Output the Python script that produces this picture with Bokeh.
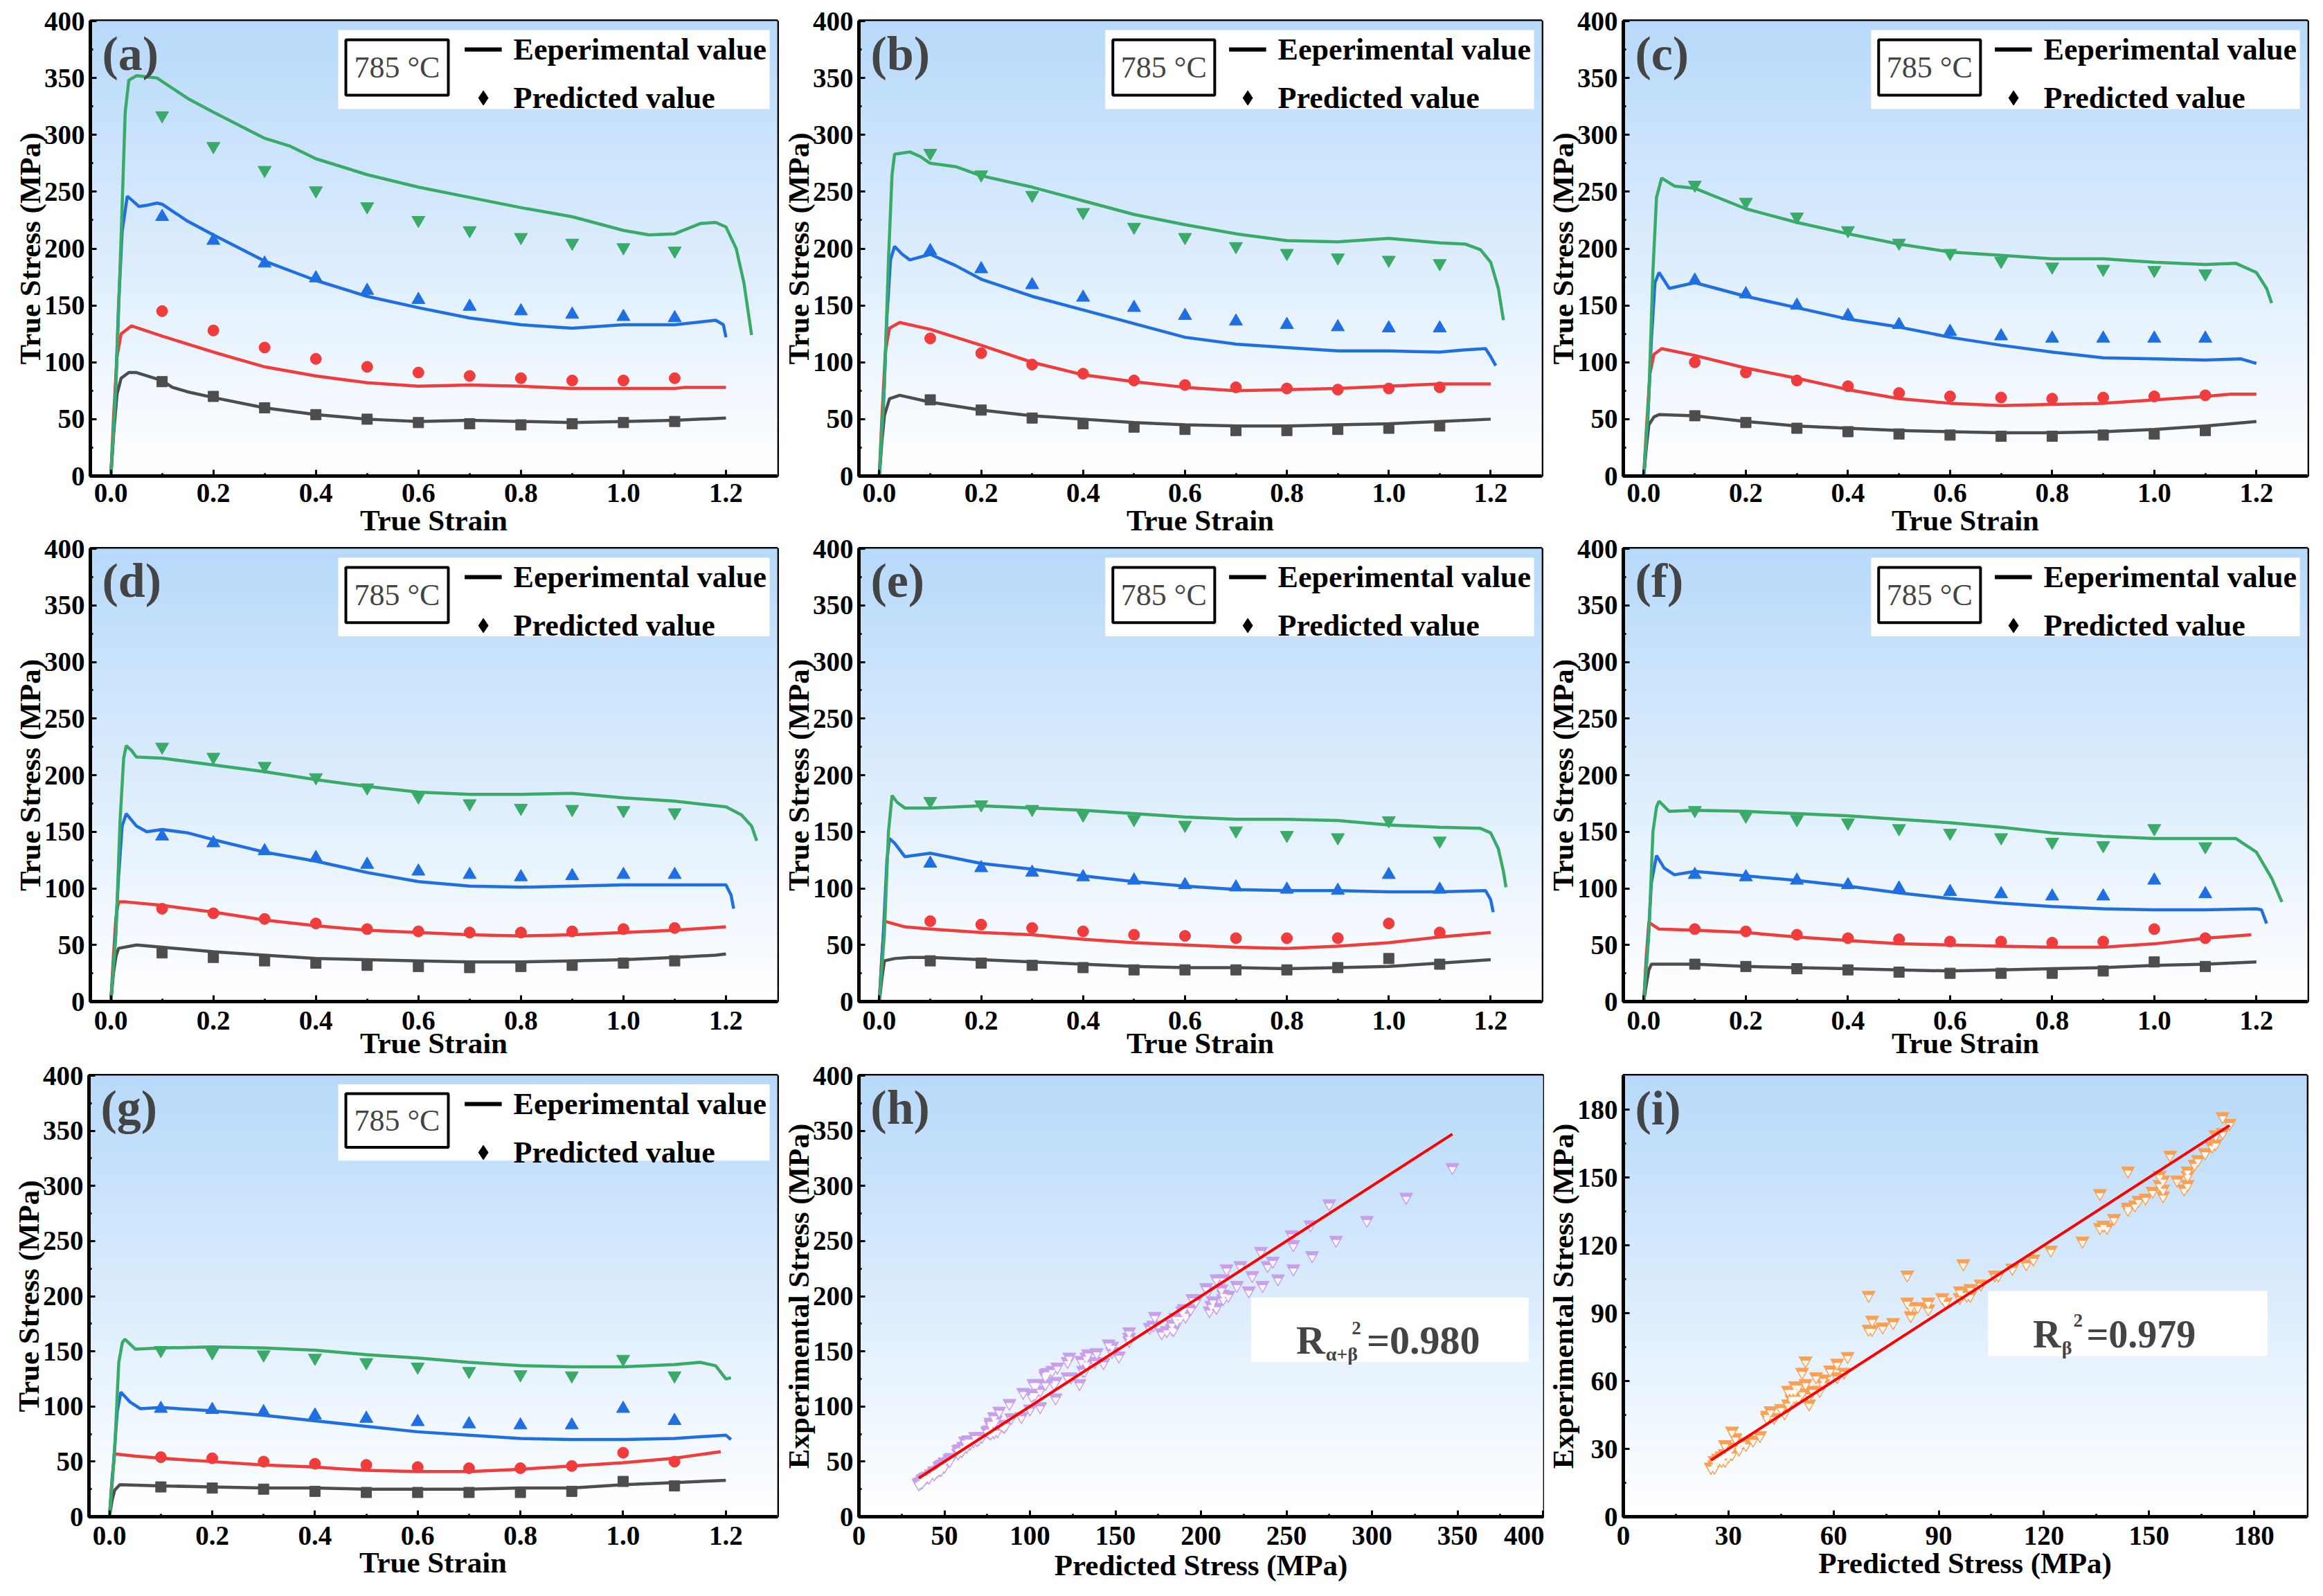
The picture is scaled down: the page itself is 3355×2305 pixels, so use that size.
import numpy as np
from bokeh.plotting import figure
from bokeh.models import (Range1d, FixedTicker, Legend, LegendItem, Label,
                          BoxAnnotation, NumeralTickFormatter)
from bokeh.layouts import row, column
from bokeh.embed import file_html
from bokeh.resources import INLINE

FONT = "Liberation Serif"

# ---------------- data ----------------
PRED_STRAIN = [0.1, 0.2, 0.3, 0.4, 0.5, 0.6, 0.7, 0.8, 0.9, 1.0, 1.1]
GRID = [0.2, 0.3, 0.4, 0.5, 0.6, 0.7, 0.8, 0.9, 1.0, 1.1, 1.2]

# panel (a)
a_k_x = [0, 0.005, 0.012, 0.02, 0.035, 0.05, 0.1, 0.12, 0.15] + GRID
a_k_y = [0, 35, 72, 86, 91, 91, 84, 78, 74, 69, 60, 54, 50, 48, 49, 48, 47, 48, 49, 51]
a_r_x = [0, 0.005, 0.012, 0.02, 0.04, 0.1] + GRID[:-2] + [1.1, 1.12, 1.2]
a_r_y = [0, 50, 105, 125, 132, 123, 109, 96, 88, 82, 79, 80, 79, 77, 77, 77, 78, 78]
a_b_x = [0, 0.008, 0.015, 0.022, 0.032, 0.04, 0.055, 0.07, 0.09, 0.1, 0.15] + GRID[:-1] + [1.18, 1.195, 1.2]
a_b_y = [0, 60, 150, 215, 246, 243, 237, 238, 240, 239, 224, 212, 189, 172, 158, 148, 139, 133, 130, 133, 133, 137, 133, 122]
a_g_x = [0, 0.01, 0.02, 0.028, 0.035, 0.05, 0.07, 0.09, 0.15, 0.2, 0.3, 0.35, 0.4, 0.5, 0.6, 0.7, 0.8, 0.9, 1.0, 1.05, 1.1, 1.15, 1.18, 1.2, 1.22, 1.235, 1.25]
a_g_y = [0, 80, 210, 320, 348, 352, 351, 350, 332, 320, 297, 290, 279, 265, 254, 245, 236, 228, 216, 212, 213, 222, 223, 219, 200, 170, 124]
a_k_p = [83, 70, 60, 54, 50, 47, 46, 45, 46, 47, 48]
a_r_p = [145, 128, 113, 103, 96, 91, 88, 86, 84, 84, 86]
a_b_p = [228, 207, 187, 174, 163, 155, 149, 145, 142, 140, 139]
a_g_p = [317, 290, 269, 251, 237, 225, 216, 210, 205, 201, 198]

# panel (b)
b_k_x = [0, 0.005, 0.01, 0.02, 0.04, 0.1] + GRID
b_k_y = [0, 30, 53, 68, 71, 65, 58, 53, 50, 47, 45, 44, 44, 45, 46, 48, 50]
b_r_x = [0, 0.005, 0.012, 0.02, 0.04, 0.1] + GRID
b_r_y = [0, 50, 110, 130, 135, 129, 115, 100, 89, 83, 78, 75, 76, 77, 79, 81, 81]
b_b_x = [0, 0.008, 0.015, 0.022, 0.03, 0.045, 0.06, 0.1, 0.15] + GRID[:-1] + [1.15, 1.19, 1.2, 1.21]
b_b_y = [0, 60, 140, 190, 202, 195, 190, 195, 185, 173, 158, 146, 134, 122, 116, 113, 110, 110, 109, 111, 112, 105, 97]
b_g_x = [0, 0.01, 0.018, 0.025, 0.03, 0.06, 0.08, 0.1, 0.15] + GRID[:-1] + [1.15, 1.18, 1.2, 1.215, 1.225]
b_g_y = [0, 80, 190, 265, 283, 285, 281, 275, 272, 264, 254, 242, 230, 221, 213, 207, 206, 209, 205, 204, 199, 188, 165, 137]
b_k_p = [67, 58, 51, 46, 43, 41, 40, 40, 41, 42, 44]
b_r_p = [121, 108, 98, 90, 84, 80, 78, 77, 76, 77, 78]
b_b_p = [198, 182, 168, 157, 148, 141, 136, 133, 131, 130, 130]
b_g_p = [284, 265, 247, 232, 219, 210, 202, 196, 192, 190, 187]

# panel (c)
c_k_x = [0, 0.005, 0.01, 0.02, 0.03, 0.1] + GRID
c_k_y = [0, 25, 45, 52, 54, 53, 48, 44, 42, 40, 39, 38, 38, 39, 41, 44, 48]
c_r_x = [0, 0.005, 0.012, 0.02, 0.035, 0.1] + GRID[:-1] + [1.15, 1.2]
c_r_y = [0, 40, 90, 107, 112, 106, 95, 86, 76, 68, 64, 62, 63, 64, 67, 70, 72, 72]
c_b_x = [0, 0.008, 0.015, 0.022, 0.03, 0.05, 0.1] + GRID[:-1] + [1.17, 1.2]
c_b_y = [0, 50, 120, 170, 179, 165, 170, 158, 148, 138, 131, 122, 115, 109, 104, 103, 102, 103, 99]
c_g_x = [0, 0.01, 0.018, 0.025, 0.035, 0.06, 0.1, 0.15] + GRID[:-1] + [1.16, 1.2, 1.22, 1.23]
c_g_y = [0, 70, 180, 245, 262, 255, 253, 244, 235, 223, 213, 204, 197, 194, 191, 191, 188, 186, 187, 179, 165, 152]
c_k_p = [53, 47, 42, 39, 37, 36, 35, 35, 36, 37, 40]
c_r_p = [100, 91, 84, 79, 73, 70, 69, 68, 69, 70, 71]
c_b_p = [172, 160, 150, 141, 133, 127, 123, 121, 121, 121, 121]
c_g_p = [256, 241, 228, 216, 205, 196, 189, 184, 182, 181, 178]

# panel (d)
d_k_x = [0, 0.005, 0.01, 0.015, 0.05, 0.1] + GRID[:-1] + [1.18, 1.2]
d_k_y = [0, 25, 40, 47, 50, 48, 44, 41, 38, 37, 36, 35, 35, 36, 37, 39, 41, 42]
d_r_x = [0, 0.005, 0.01, 0.015, 0.03, 0.1] + GRID
d_r_y = [0, 40, 75, 88, 88, 85, 79, 72, 67, 63, 61, 59, 58, 59, 61, 63, 66]
d_b_x = [0, 0.008, 0.015, 0.022, 0.03, 0.05, 0.07, 0.1, 0.15] + GRID + [1.21, 1.215]
d_b_y = [0, 50, 110, 155, 166, 155, 150, 152, 149, 143, 132, 124, 114, 106, 102, 101, 102, 103, 103, 103, 94, 82]
d_g_x = [0, 0.01, 0.018, 0.025, 0.03, 0.04, 0.05, 0.1] + GRID + [1.23, 1.25, 1.26]
d_g_y = [0, 60, 160, 215, 226, 222, 216, 215, 209, 203, 196, 190, 185, 183, 183, 184, 180, 177, 172, 165, 155, 142]
d_k_p = [43, 39, 36, 34, 32, 31, 30, 31, 32, 34, 36]
d_r_p = [82, 78, 73, 69, 64, 62, 61, 61, 62, 64, 65]
d_b_p = [146, 140, 133, 127, 121, 115, 112, 110, 111, 112, 112]
d_g_p = [225, 216, 208, 198, 189, 181, 175, 171, 170, 169, 167]

# panel (e)
e_k_x = [0, 0.005, 0.01, 0.03, 0.06, 0.1] + GRID
e_k_y = [0, 20, 36, 38, 39, 39, 37, 35, 33, 31, 30, 30, 29, 30, 31, 34, 37]
e_r_x = [0, 0.005, 0.01, 0.05, 0.1] + GRID
e_r_y = [0, 40, 71, 66, 64, 61, 59, 55, 52, 50, 48, 47, 49, 52, 57, 61]
e_b_x = [0, 0.008, 0.015, 0.02, 0.03, 0.05, 0.1] + GRID[:-1] + [1.19, 1.2, 1.205]
e_b_y = [0, 60, 125, 144, 140, 128, 131, 122, 117, 111, 106, 102, 99, 98, 98, 97, 97, 98, 90, 79]
e_g_x = [0, 0.01, 0.018, 0.025, 0.035, 0.05, 0.1] + GRID[:-1] + [1.18, 1.2, 1.215, 1.225, 1.23]
e_g_y = [0, 60, 150, 182, 176, 171, 171, 173, 171, 169, 166, 163, 161, 161, 160, 156, 154, 153, 149, 135, 115, 101]
e_k_p = [36, 34, 32, 30, 28, 28, 28, 28, 30, 38, 33]
e_r_p = [71, 68, 65, 62, 59, 58, 56, 56, 56, 69, 61]
e_b_p = [122, 118, 114, 110, 107, 103, 101, 99, 98, 112, 99]
e_g_p = [177, 174, 170, 165, 161, 156, 151, 147, 145, 160, 142]

# panel (f)
f_k_x = [0, 0.005, 0.01, 0.015, 0.1] + GRID
f_k_y = [0, 15, 28, 33, 33, 31, 30, 29, 28, 27, 28, 29, 30, 32, 33, 35]
f_r_x = [0, 0.005, 0.01, 0.03, 0.1] + GRID[:-1] + [1.19]
f_r_y = [0, 40, 70, 64, 63, 61, 57, 54, 51, 50, 49, 48, 48, 51, 56, 59]
f_b_x = [0, 0.008, 0.015, 0.025, 0.04, 0.06, 0.1] + GRID + [1.21, 1.22]
f_b_y = [0, 50, 105, 129, 118, 112, 115, 111, 107, 102, 96, 91, 87, 84, 82, 81, 81, 82, 81, 69]
f_g_x = [0, 0.01, 0.018, 0.025, 0.03, 0.05, 0.1] + GRID[:-1] + [1.16, 1.2, 1.23, 1.25]
f_g_y = [0, 60, 150, 172, 177, 168, 169, 168, 166, 164, 161, 158, 154, 149, 146, 144, 144, 144, 132, 109, 88]
f_k_p = [33, 31, 29, 28, 26, 25, 25, 25, 27, 35, 31]
f_r_p = [64, 62, 59, 56, 55, 53, 53, 52, 53, 64, 56]
f_b_p = [112, 110, 107, 103, 100, 97, 95, 93, 93, 107, 95]
f_g_p = [169, 164, 161, 158, 153, 149, 145, 141, 138, 153, 137]

# panel (g)
g_k_x = [0, 0.005, 0.01, 0.02, 0.1] + GRID
g_k_y = [0, 15, 24, 29, 28, 27, 26, 26, 25, 25, 25, 26, 26, 29, 31, 33]
g_r_x = [0, 0.005, 0.01, 0.05, 0.1] + GRID[:-1] + [1.19]
g_r_y = [0, 35, 57, 55, 53, 50, 47, 45, 42, 41, 41, 43, 46, 49, 53, 59]
g_b_x = [0, 0.008, 0.015, 0.022, 0.04, 0.06, 0.1] + GRID + [1.21]
g_b_y = [0, 50, 95, 113, 104, 98, 99, 96, 92, 87, 82, 77, 74, 71, 70, 70, 71, 74, 70]
g_g_x = [0, 0.01, 0.018, 0.025, 0.03, 0.05, 0.1] + GRID[:-1] + [1.15, 1.18, 1.2, 1.21]
g_g_y = [0, 60, 140, 158, 161, 152, 153, 154, 153, 151, 147, 144, 140, 137, 136, 136, 138, 140, 137, 125, 126]
g_k_p = [27, 26, 25, 23, 22, 22, 22, 22, 23, 32, 28]
g_r_p = [54, 53, 50, 48, 47, 45, 44, 44, 46, 58, 50]
g_b_p = [98, 97, 95, 92, 89, 86, 84, 83, 83, 98, 87]
g_g_p = [151, 149, 147, 144, 140, 136, 132, 129, 128, 143, 128]

STRAIN_TICKS = [0.0, 0.2, 0.4, 0.6, 0.8, 1.0, 1.2]
STRESS_TICKS = [0, 50, 100, 150, 200, 250, 300, 350, 400]
BETA_TICKS = [0, 30, 60, 90, 120, 150, 180]
TEMP_LABEL = "785 °C"
R2_AB = "0.980"
R2_B = "0.979"

# ---------------- styling ----------------
BLACK, RED, BLUE, GREEN = "#4d4d4d", "#f03c3c", "#1f6fe3", "#3aaa68"
LAVENDER, ORANGE = "#c79fea", "#f9a054"
TOP = (183, 217, 250)


def add_gradient(p, x0, x1, y0, y1):
    n = 64
    edges = np.linspace(y0, y1, n + 1)
    t = (np.arange(n) + 0.5) / n
    cols = ["#%02x%02x%02x" % tuple(int(round(255 + (c - 255) * tt)) for c in TOP) for tt in t]
    p.quad(left=x0, right=x1, bottom=edges[:-1], top=edges[1:],
           fill_color=cols, line_color=cols, line_width=1)


def helpers(w, h, l, r, t, b, xr, yr):
    fw, fh = w - l - r, h - t - b
    sx = lambda px: xr[0] + px / fw * (xr[1] - xr[0])
    sy = lambda py: yr[1] - py / fh * (yr[1] - yr[0])
    return sx, sy, fw, fh


def base_figure(dims, xr, yr, xticks, xminor, yticks, yminor,
                xlabel, ylabel, stand, xfmt=None):
    w, h, l, r, t, b = dims
    p = figure(width=w, height=h, x_range=Range1d(*xr), y_range=Range1d(*yr),
               output_backend="svg", toolbar_location=None,
               min_border_left=l, min_border_right=r, min_border_top=t, min_border_bottom=b)
    p.grid.visible = False
    p.outline_line_color = "black"
    p.outline_line_width = 5
    p.outline_line_alpha = 1
    p.background_fill_color = "white"
    p.border_fill_color = "white"
    add_gradient(p, xr[0], xr[1], yr[0], yr[1])
    p.xaxis.ticker = FixedTicker(ticks=xticks, minor_ticks=xminor)
    p.yaxis.ticker = FixedTicker(ticks=yticks, minor_ticks=yminor)
    if xfmt:
        p.xaxis.formatter = NumeralTickFormatter(format=xfmt)
    for ax in (p.xaxis[0], p.yaxis[0]):
        ax.axis_line_width = 5
        ax.axis_line_color = "black"
        ax.major_tick_in = 9
        ax.major_tick_out = 0
        ax.minor_tick_in = 4
        ax.minor_tick_out = 0
        ax.major_tick_line_width = 3
        ax.minor_tick_line_width = 3
        ax.major_label_text_font = FONT
        ax.major_label_text_font_style = "bold"
        ax.major_label_text_font_size = "39px"
        ax.major_label_text_color = "black"
        ax.axis_label_text_font = FONT
        ax.axis_label_text_font_style = "bold"
        ax.axis_label_text_font_size = "43px"
        ax.axis_label_text_color = "black"
    p.xaxis.axis_label = xlabel
    p.yaxis.axis_label = ylabel
    p.xaxis.major_label_standoff = stand[0]
    p.xaxis.axis_label_standoff = stand[1]
    p.yaxis.major_label_standoff = 8
    p.yaxis.axis_label_standoff = -6
    sx, sy, fw, fh = helpers(w, h, l, r, t, b, xr, yr)
    return p, sx, sy, fw, fh


def panel_tag(p, sx, sy, tag):
    p.add_layout(Label(x=sx(17), y=sy(8), text=tag, text_font=FONT, text_font_style="bold",
                       text_font_size="70px", text_align="left", text_baseline="top"))


def strain_panel(tag, dims, curves, preds, stand):
    xr, yr = (-0.04, 1.3), (0, 400)
    p, sx, sy, fw, fh = base_figure(dims, xr, yr, STRAIN_TICKS, [0.1, 0.3, 0.5, 0.7, 0.9, 1.1],
                                    STRESS_TICKS, [25, 75, 125, 175, 225, 275, 325, 375],
                                    "True Strain", "True Stress (MPa)", stand, xfmt="0.0")
    for xs, ys, col in curves:
        p.line(xs, ys, line_color=col, line_width=4.5)
    for vals, col, mk, sz in preds:
        p.scatter(PRED_STRAIN, vals, marker=mk, size=sz, fill_color=col, line_color=col)
    # legend background and temperature box
    p.add_layout(BoxAnnotation(left=sx(fw - 634), right=sx(fw - 11), top=sy(13), bottom=sy(127),
                               fill_color="white", fill_alpha=1, line_alpha=0))
    p.add_layout(BoxAnnotation(left=sx(fw - 623), right=sx(fw - 475), top=sy(27), bottom=sy(107),
                               fill_color="white", fill_alpha=1, line_color="black",
                               line_alpha=1, line_width=4))
    p.add_layout(Label(x=sx(fw - 549), y=sy(67), text=TEMP_LABEL, text_font=FONT,
                       text_font_size="44px", text_align="center", text_baseline="middle"))
    lr = p.line(x=[np.nan, np.nan], y=[np.nan, np.nan], line_color="black", line_width=6)
    dr = p.scatter(x=[np.nan], y=[np.nan], marker="diamond", size=20,
                   fill_color="black", line_color="black")
    leg = Legend(items=[LegendItem(label="Eeperimental value", renderers=[lr]),
                        LegendItem(label="Predicted value", renderers=[dr])],
                 location="top_right", margin=11, padding=4, spacing=18,
                 glyph_width=54, glyph_height=52, label_height=48, label_standoff=17,
                 background_fill_alpha=0, border_line_alpha=0,
                 label_text_font=FONT, label_text_font_style="bold",
                 label_text_font_size="44px", label_text_color="black")
    p.add_layout(leg)
    panel_tag(p, sx, sy, tag)
    return p


def curves_of(kx, ky, rx, ry, bx, by, gx, gy):
    return [(kx, ky, BLACK), (rx, ry, RED), (bx, by, BLUE), (gx, gy, GREEN)]


def preds_of(k, r_, b_, g):
    return [(k, BLACK, "square", 15), (r_, RED, "circle", 16),
            (b_, BLUE, "triangle", 19), (g, GREEN, "inverted_triangle", 19)]


ROW1 = (778, 30, 91)   # height, top border, bottom border
ROW2 = (754, 14, 84)
ROW3 = 773
S1, S2, S3 = (11, 0), (14, -7), (14, -1)

pa = strain_panel("(a)", (1126, ROW1[0], 130, 4, ROW1[1], ROW1[2]),
                  curves_of(a_k_x, a_k_y, a_r_x, a_r_y, a_b_x, a_b_y, a_g_x, a_g_y),
                  preds_of(a_k_p, a_r_p, a_b_p, a_g_p), S1)
pb = strain_panel("(b)", (1104, ROW1[0], 108, 4, ROW1[1], ROW1[2]),
                  curves_of(b_k_x, b_k_y, b_r_x, b_r_y, b_b_x, b_b_y, b_g_x, b_g_y),
                  preds_of(b_k_p, b_r_p, b_b_p, b_g_p), S1)
pc = strain_panel("(c)", (1110, ROW1[0], 108, 8, ROW1[1], ROW1[2]),
                  curves_of(c_k_x, c_k_y, c_r_x, c_r_y, c_b_x, c_b_y, c_g_x, c_g_y),
                  preds_of(c_k_p, c_r_p, c_b_p, c_g_p), S1)
pd = strain_panel("(d)", (1126, ROW2[0], 130, 4, ROW2[1], ROW2[2]),
                  curves_of(d_k_x, d_k_y, d_r_x, d_r_y, d_b_x, d_b_y, d_g_x, d_g_y),
                  preds_of(d_k_p, d_r_p, d_b_p, d_g_p), S2)
pe = strain_panel("(e)", (1104, ROW2[0], 108, 4, ROW2[1], ROW2[2]),
                  curves_of(e_k_x, e_k_y, e_r_x, e_r_y, e_b_x, e_b_y, e_g_x, e_g_y),
                  preds_of(e_k_p, e_r_p, e_b_p, e_g_p), S2)
pf = strain_panel("(f)", (1110, ROW2[0], 108, 8, ROW2[1], ROW2[2]),
                  curves_of(f_k_x, f_k_y, f_r_x, f_r_y, f_b_x, f_b_y, f_g_x, f_g_y),
                  preds_of(f_k_p, f_r_p, f_b_p, f_g_p), S2)
pg = strain_panel("(g)", (1126, ROW3, 128, 4, 14, 100),
                  curves_of(g_k_x, g_k_y, g_r_x, g_r_y, g_b_x, g_b_y, g_g_x, g_g_y),
                  preds_of(g_k_p, g_r_p, g_b_p, g_g_p), S3)


def pairs(panels):
    xs, ys = [], []
    for curves, preds in panels:
        for (cx, cy, _), (pv, _, _, _) in zip(curves, preds):
            xs.extend(np.interp(PRED_STRAIN, cx, cy))
            ys.extend(pv)
    return np.array(xs), np.array(ys)


ab_exp, ab_pred = pairs([
    (curves_of(a_k_x, a_k_y, a_r_x, a_r_y, a_b_x, a_b_y, a_g_x, a_g_y), preds_of(a_k_p, a_r_p, a_b_p, a_g_p)),
    (curves_of(b_k_x, b_k_y, b_r_x, b_r_y, b_b_x, b_b_y, b_g_x, b_g_y), preds_of(b_k_p, b_r_p, b_b_p, b_g_p)),
    (curves_of(c_k_x, c_k_y, c_r_x, c_r_y, c_b_x, c_b_y, c_g_x, c_g_y), preds_of(c_k_p, c_r_p, c_b_p, c_g_p)),
    (curves_of(d_k_x, d_k_y, d_r_x, d_r_y, d_b_x, d_b_y, d_g_x, d_g_y), preds_of(d_k_p, d_r_p, d_b_p, d_g_p)),
])
b_exp, b_pred = pairs([
    (curves_of(e_k_x, e_k_y, e_r_x, e_r_y, e_b_x, e_b_y, e_g_x, e_g_y), preds_of(e_k_p, e_r_p, e_b_p, e_g_p)),
    (curves_of(f_k_x, f_k_y, f_r_x, f_r_y, f_b_x, f_b_y, f_g_x, f_g_y), preds_of(f_k_p, f_r_p, f_b_p, f_g_p)),
    (curves_of(g_k_x, g_k_y, g_r_x, g_r_y, g_b_x, g_b_y, g_g_x, g_g_y), preds_of(g_k_p, g_r_p, g_b_p, g_g_p)),
])


def scatter_panel(tag, dims, xr, ticks, minor, xs, ys, col, sub, r2, box, rpos, fs, stand):
    p, sx, sy, fw, fh = base_figure(dims, xr, xr, ticks, minor, ticks, minor,
                                    "Predicted Stress (MPa)", "Experimental Stress (MPa)", stand)
    dy = 3.0 * (xr[1] - xr[0]) / fh
    p.scatter(xs, ys, marker="inverted_triangle", size=19, fill_color=col, line_color=col)
    p.scatter(xs, ys - dy, marker="inverted_triangle", size=9, fill_color="white",
              line_color="white", fill_alpha=0.9, line_alpha=0.9)
    fx = np.array([xs.min(), xs.max()])
    p.line(fx, fx, line_color="#ff0000", line_width=4)
    bl, br, bt, bb = box
    p.add_layout(BoxAnnotation(left=sx(bl), right=sx(br), top=sy(bt), bottom=sy(bb),
                               fill_color="white", fill_alpha=1, line_alpha=0))
    rx, base, subx, supx, eqx, sub_dy, sup_dy = rpos
    p.add_layout(Label(x=sx(rx), y=sy(base), text="R", text_font=FONT, text_font_style="bold",
                       text_font_size=fs, text_align="left", text_baseline="alphabetic"))
    p.add_layout(Label(x=sx(subx), y=sy(base + sub_dy), text=sub, text_font=FONT, text_font_style="bold",
                       text_font_size="28px", text_align="left", text_baseline="alphabetic"))
    p.add_layout(Label(x=sx(supx), y=sy(base + sup_dy), text="2", text_font=FONT, text_font_style="bold",
                       text_font_size="27px", text_align="left", text_baseline="middle"))
    p.add_layout(Label(x=sx(eqx), y=sy(base), text="=" + r2, text_font=FONT, text_font_style="bold",
                       text_font_size=fs, text_align="left", text_baseline="alphabetic"))
    panel_tag(p, sx, sy, tag)
    return p


ph = scatter_panel("(h)", (1104, ROW3, 104, 2, 20, 109), (0, 400), STRESS_TICKS,
                   [25, 75, 125, 175, 225, 275, 325, 375], ab_exp, ab_pred, LAVENDER,
                   "α+β", R2_AB, (572, 977, 324, 418), (638, 386, 681, 719, 741, 20, -18), "58px", (14, 3))
pi = scatter_panel("(i)", (1110, ROW3, 108, 9, 21, 115), (0, 195), BETA_TICKS,
                   [15, 45, 75, 105, 135, 165], b_exp, b_pred, ORANGE,
                   "β", R2_B, (530, 936, 311, 405), (595, 373, 637, 654, 673, 20, -20), "56px", (14, 0))

layout = column(row(pa, pb, pc), row(pd, pe, pf), row(pg, ph, pi))
open("out.html", "w").write(file_html(layout, INLINE))
